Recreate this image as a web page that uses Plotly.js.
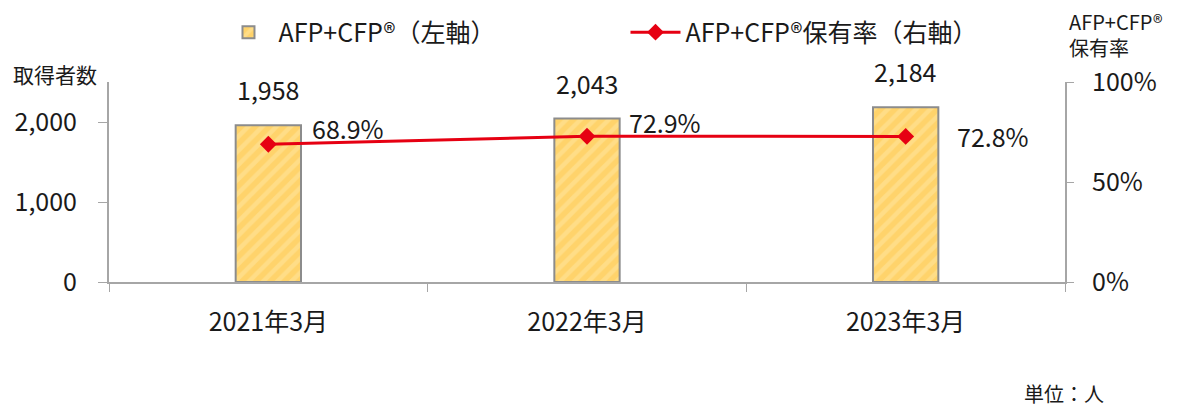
<!DOCTYPE html>
<html>
<head>
<meta charset="utf-8">
<script src="https://cdn.plot.ly/plotly-3.0.1.min.js"></script>
<style>
  html, body { margin: 0; padding: 0; background: #ffffff; }
  #chart { width: 1181px; height: 405px; }
</style>
</head>
<body>
<div id="chart"></div>
<script>
// ---- data ----
const categories = ['2021年3月', '2022年3月', '2023年3月'];
const holders = [1958, 2043, 2184];           // 取得者数 (left axis)
const holdRate = [0.689, 0.729, 0.728];       // 保有率 (right axis)
const barName = 'AFP+CFP®（左軸）';
const lineName = 'AFP+CFP®保有率（右軸）';
const leftTicks = [0, 1000, 2000];
const rightTicks = [0, 0.5, 1];

// ---- style (label offsets in px, not data) ----
const FONT = '"Noto Sans CJK JP", "Noto Sans", sans-serif';
const TXT = '#1a1a1a';
const AXIS = '#a6a6a6';
const RED = '#e60012';
const rateOffsets = [[80, 16], [78, 14], [87, 0]];

const fmtInt = v => v.toLocaleString('en-US');
const fmtPct = v => (v * 100).toFixed(1) + '%';

const traces = [
  {
    type: 'bar',
    name: barName,
    x: categories,
    y: holders,
    width: 0.205,
    marker: {
      color: '#ffd36b',
      line: { color: '#8c8c8c', width: 2 },
      pattern: { shape: '/', bgcolor: '#ffd36b', fgcolor: '#ffe7a3', size: 10, solidity: 0.45, fillmode: 'overlay' }
    },
    hoverinfo: 'skip'
  },
  {
    type: 'scatter',
    mode: 'lines+markers',
    name: lineName,
    x: categories,
    y: holdRate,
    yaxis: 'y2',
    line: { color: RED, width: 3 },
    marker: { symbol: 'diamond', size: 13, color: RED },
    hoverinfo: 'skip'
  }
];

const annotations = [];
categories.forEach((c, i) => {
  annotations.push({
    x: c, y: holders[i], xref: 'x', yref: 'y',
    text: fmtInt(holders[i]), showarrow: false,
    yanchor: 'bottom', yshift: 16,
    font: { family: FONT, size: 25, color: TXT }
  });
  annotations.push({
    x: c, y: holdRate[i], xref: 'x', yref: 'y2',
    text: fmtPct(holdRate[i]), showarrow: false,
    xanchor: 'center', yanchor: 'middle',
    xshift: rateOffsets[i][0], yshift: rateOffsets[i][1],
    font: { family: FONT, size: 25, color: TXT }
  });
});
annotations.push({
  xref: 'paper', yref: 'paper', x: -0.102, y: 1.04,
  xanchor: 'left', yanchor: 'middle', showarrow: false,
  text: '取得者数', font: { family: FONT, size: 21, color: TXT }
});
annotations.push({
  xref: 'paper', yref: 'paper', x: 1.002, y: 1.24,
  xanchor: 'left', yanchor: 'middle', showarrow: false, align: 'left',
  text: 'AFP+CFP®<br>保有率', font: { family: FONT, size: 20, color: TXT }
});
annotations.push({
  xref: 'paper', yref: 'paper', x: 0.955, y: -0.555,
  xanchor: 'left', yanchor: 'middle', showarrow: false,
  text: '単位：人', font: { family: FONT, size: 20, color: TXT }
});

const layout = {
  width: 1181, height: 405,
  margin: { l: 109, r: 116, t: 82, b: 123 },
  paper_bgcolor: '#ffffff', plot_bgcolor: '#ffffff',
  font: { family: FONT, color: TXT, size: 25 },
  showlegend: true,
  legend: {
    orientation: 'h',
    xref: 'container', yref: 'container',
    x: 0.185, y: 0.92, xanchor: 'left', yanchor: 'middle',
    entrywidth: 342, entrywidthmode: 'pixels',
    font: { family: FONT, size: 25, color: TXT },
    itemwidth: 50, traceorder: 'normal'
  },
  xaxis: {
    type: 'category',
    showline: true, linecolor: AXIS, linewidth: 2,
    ticks: 'outside', tickson: 'boundaries', ticklen: 8, tickcolor: AXIS, tickwidth: 1,
    showgrid: false, zeroline: false,
    tickfont: { family: FONT, size: 25, color: TXT },
    ticklabelstandoff: 17,
    fixedrange: true
  },
  yaxis: {
    range: [0, 2500],
    tickvals: leftTicks,
    ticktext: leftTicks.map(fmtInt),
    showline: true, linecolor: AXIS, linewidth: 2,
    ticks: 'outside', ticklen: 9, tickcolor: AXIS, tickwidth: 1,
    showgrid: false, zeroline: false,
    tickfont: { family: FONT, size: 25, color: TXT },
    ticklabelstandoff: 16,
    fixedrange: true
  },
  yaxis2: {
    overlaying: 'y', side: 'right',
    range: [0, 1],
    tickvals: rightTicks,
    ticktext: rightTicks.map(v => Math.round(v * 100) + '%'),
    showline: true, linecolor: AXIS, linewidth: 2,
    ticks: 'outside', ticklen: 7, tickcolor: AXIS, tickwidth: 1,
    showgrid: false, zeroline: false,
    tickfont: { family: FONT, size: 25, color: TXT },
    ticklabelstandoff: 13,
    fixedrange: true
  },
  annotations: annotations
};

Plotly.newPlot('chart', traces, layout, { displayModeBar: false, staticPlot: true });
</script>
</body>
</html>
